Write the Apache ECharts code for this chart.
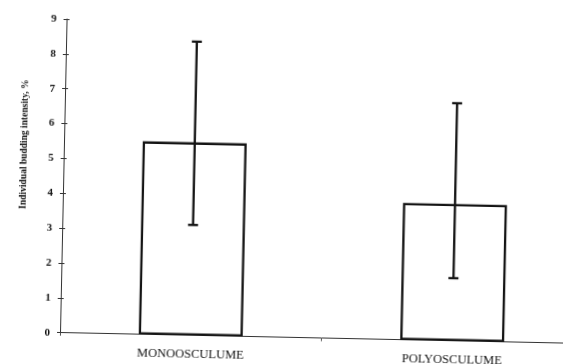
<!DOCTYPE html>
<html>
<head>
<meta charset="utf-8">
<script src="https://cdn.jsdelivr.net/npm/echarts@6/dist/echarts.min.js"></script>
<style>
  html, body { margin: 0; padding: 0; background: #fff; overflow: hidden; width: 563px; height: 364px; }
  #chart {
    width: 590px; height: 364px;
    /* the printed figure sits slightly tilted on the page */
    transform: rotate(1.2deg);
    transform-origin: 60px 332.7px;
  }
</style>
</head>
<body>
<div id="chart"></div>
<script>
// Budding intensity by sponge morphotype: mean with lower/upper error bounds
const categories = ['MONOOSCULUME', 'POLYOSCULUME'];
const meanValues = [5.54, 3.93];
const lowerBounds = [3.17, 1.80];
const upperBounds = [8.43, 6.82];
const yTicks = [0, 1, 2, 3, 4, 5, 6, 7, 8, 9];
const yAxisTitle = 'Individual budding intensity, %';

const ink = '#141414';
const serif = '"Liberation Serif", "DejaVu Serif", serif';

const chart = echarts.init(document.getElementById('chart'), null, { renderer: 'canvas' });

chart.setOption({
  backgroundColor: '#fff',
  animation: false,
  grid: { left: 60, right: 7, top: 19, bottom: 31.3, containLabel: false },
  xAxis: {
    type: 'category',
    data: categories,
    boundaryGap: true,
    axisLine: { show: true, lineStyle: { color: '#333', width: 1 } },
    axisTick: { show: true, alignWithLabel: false, length: 3, lineStyle: { color: '#555' } },
    axisLabel: {
      color: ink, fontFamily: serif, fontSize: 12.5, margin: 13,
      fontWeight: 'normal'
    },
    splitLine: { show: false }
  },
  yAxis: [
    {
      type: 'value',
      min: yTicks[0], max: yTicks[yTicks.length - 1], interval: 1,
      axisLine: { show: true, lineStyle: { color: '#333', width: 1 } },
      axisTick: { show: true, length: 3, lineStyle: { color: '#333' } },
      axisLabel: {
        color: ink, fontFamily: serif, fontSize: 11, fontWeight: 'bold', margin: 10,
        formatter: v => (yTicks.includes(v) ? String(v) : '')
      },
      splitLine: { show: false }
    },
    {
      // inward half of the crossing tick marks
      type: 'value', position: 'left', offset: 0,
      min: yTicks[0], max: yTicks[yTicks.length - 1], interval: 1,
      axisLine: { show: false },
      axisTick: { show: true, inside: true, length: 3, lineStyle: { color: '#333' } },
      axisLabel: { show: false },
      splitLine: { show: false }
    }
  ],
  graphic: [{
    type: 'text',
    x: 21, y: 145,
    rotation: Math.PI / 2,
    style: {
      text: yAxisTitle,
      fill: ink,
      font: 'bold 9.5px ' + serif,
      align: 'center',
      verticalAlign: 'middle'
    }
  }],
  series: [
    {
      type: 'bar',
      data: meanValues,
      barWidth: 104,
      itemStyle: { color: 'rgba(255,255,255,0)', borderColor: ink, borderWidth: 2.3 },
      z: 2
    },
    {
      type: 'custom',
      z: 3,
      data: categories.map((c, i) => [i, lowerBounds[i], upperBounds[i]]),
      renderItem: function (params, api) {
        const x = api.value(0);
        const lo = api.coord([x, api.value(1)]);
        const hi = api.coord([x, api.value(2)]);
        const cap = 5;
        const style = { stroke: ink, lineWidth: 2.3 };
        return {
          type: 'group',
          children: [
            { type: 'line', shape: { x1: hi[0], y1: hi[1], x2: lo[0], y2: lo[1] }, style },
            { type: 'line', shape: { x1: hi[0] - cap, y1: hi[1], x2: hi[0] + cap, y2: hi[1] }, style },
            { type: 'line', shape: { x1: lo[0] - cap, y1: lo[1], x2: lo[0] + cap, y2: lo[1] }, style }
          ]
        };
      }
    }
  ]
});
</script>
</body>
</html>
